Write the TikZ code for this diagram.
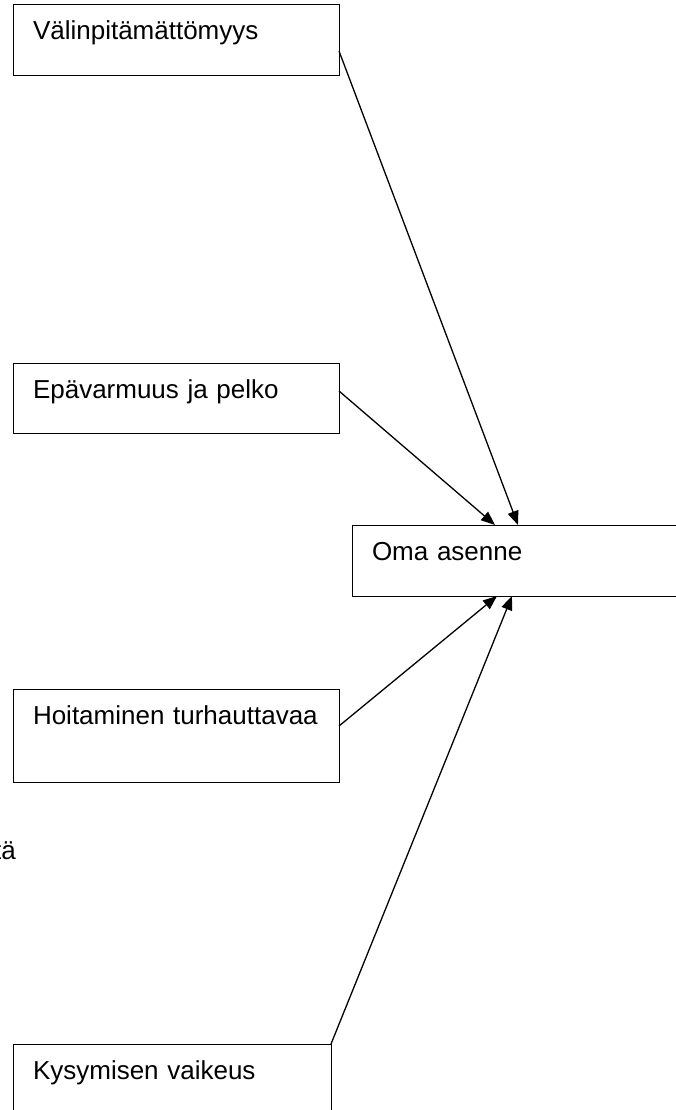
\documentclass[tikz,border=0pt]{standalone}
\usepackage{fontspec}
\setmainfont{Liberation Sans}
\usetikzlibrary{arrows.meta,calc}

\tikzset{
  box/.style={draw=black, line width=1pt, fill=white, inner xsep=20pt, inner ysep=0pt,
    outer sep=0pt, text height=35pt, anchor=north west, align=left,
    font=\fontsize{26}{30}\selectfont},
  link/.style={line width=1.3pt, -{Triangle[length=14pt,width=11pt]}},
  frag/.style={font=\fontsize{26}{30}\selectfont, inner sep=0pt, anchor=base east}
}

\begin{document}
\begin{tikzpicture}[x=1pt, y=-1pt]
  \useasboundingbox (0,0) rectangle (676,1110);

  % factor boxes on the left
  \node[box, text width=286pt, text depth=36pt] (b1) at (13,5) {\mbox{Välinpitämättömyys}};
  \node[box, text width=286pt, text depth=35pt] (b2) at (13,363) {\mbox{Epävarmuus ja pelko}};
  \node[box, text width=286pt, text depth=58pt] (b3) at (13,689) {\mbox{Hoitaminen turhauttavaa}};
  \node[box, text width=278pt, text depth=41pt] (b4) at (13,1044) {\mbox{Kysymisen vaikeus}};

  % target box on the right
  \node[box, text width=288pt, text depth=36pt] (oma) at (352,525) {\mbox{Oma asenne}};

  % partly hidden text at the left margin
  \node[frag] (tail) at (16,859) {tä};

  % arrows into the target box
  \draw[link] ($(b1.north east)+(0,46)$) -- ($(oma.north west)+(166,0)$);
  \draw[link] ($(b2.north east)+(0,28)$) -- ($(oma.north west)+(143,0)$);
  \draw[link] ($(b3.north east)+(0,37)$) -- ($(oma.south west)+(145,0)$);
  \draw[link] (b4.north east) -- ($(oma.south west)+(160,0)$);
\end{tikzpicture}
\end{document}
